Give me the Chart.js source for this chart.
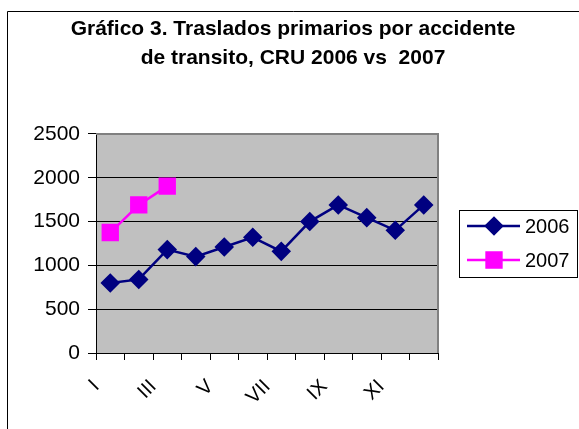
<!DOCTYPE html>
<html>
<head>
<meta charset="utf-8">
<script src="https://cdn.jsdelivr.net/npm/chart.js@4"></script>
<style>
  html, body { margin: 0; padding: 0; background: #fff; }
  #wrap { width: 579px; height: 429px; position: relative; }
</style>
</head>
<body>
<div id="wrap"><canvas id="grafico"></canvas></div>
<script>
// datos
var meses = ['I', 'II', 'III', 'IV', 'V', 'VI', 'VII', 'VIII', 'IX', 'X', 'XI', 'XII'];
var valores2006 = [800, 840, 1180, 1100, 1210, 1320, 1160, 1500, 1690, 1545, 1400, 1690];
var valores2007 = [1375, 1690, 1905];
var ticksY = [0, 500, 1000, 1500, 2000, 2500];
var titulo = ['Gráfico 3. Traslados primarios por accidente', 'de transito, CRU 2006 vs  2007'];

var fuente = "'Liberation Sans', Arial, sans-serif";

// marco, fondo gris del area y leyenda a mano (estilo Excel)
var excelPlugin = {
    id: 'excelPlugin',
    beforeDraw: function(chart){
        var ctx = chart.ctx;
        var a = chart.chartArea;
        ctx.save();
        ctx.fillStyle = '#fff';
        ctx.fillRect(0, 0, chart.width, chart.height);
        ctx.strokeStyle = '#000';
        ctx.lineWidth = 1;
        ctx.beginPath();
        ctx.moveTo(7.5, chart.height);
        ctx.lineTo(7.5, 11.5);
        ctx.lineTo(chart.width, 11.5);
        ctx.stroke();
        ctx.fillStyle = '#c0c0c0';
        ctx.fillRect(a.left, a.top, a.right - a.left, a.bottom - a.top);
        ctx.restore();
    },
    beforeDatasetsDraw: function(chart){
        var ctx = chart.ctx;
        var a = chart.chartArea;
        ctx.save();
        ctx.strokeStyle = '#808080';
        ctx.lineWidth = 2;
        ctx.beginPath();
        ctx.moveTo(a.left, a.top);
        ctx.lineTo(a.right, a.top);
        ctx.lineTo(a.right, a.bottom);
        ctx.stroke();
        ctx.restore();
    },
    afterDraw: function(chart){
        var ctx = chart.ctx;
        var bx = 459.5, by = 210.5, bw = 118, bh = 67;
        ctx.save();
        ctx.strokeStyle = '#000';
        ctx.lineWidth = 1;
        ctx.strokeRect(bx, by, bw, bh);
        chart.data.datasets.forEach(function(ds, i){
            var y = 226 + i * 34;
            ctx.strokeStyle = ds.borderColor;
            ctx.lineWidth = ds.borderWidth;
            ctx.beginPath();
            ctx.moveTo(467, y);
            ctx.lineTo(520, y);
            ctx.stroke();
            ctx.fillStyle = ds.pointBackgroundColor;
            ctx.strokeStyle = ds.pointBorderColor;
            Chart.helpers.drawPoint(ctx, {
                pointStyle: ds.pointStyle,
                radius: ds.pointRadius,
                rotation: 0,
                borderWidth: 1
            }, 494, y);
            ctx.fillStyle = '#000';
            ctx.font = '20px ' + fuente;
            ctx.textBaseline = 'middle';
            ctx.textAlign = 'left';
            ctx.fillText(ds.label, 525, y + 1);
        });
        ctx.restore();
    }
};

var ctx = document.getElementById('grafico').getContext('2d');
var chart = new Chart(ctx, {
    type: 'line',
    data: {
        labels: meses,
        datasets: [
            {
                label: '2006',
                data: valores2006,
                borderColor: '#000080',
                backgroundColor: '#000080',
                pointBackgroundColor: '#000080',
                pointBorderColor: '#000080',
                borderWidth: 2.5,
                pointStyle: 'rectRot',
                pointRadius: 8,
                tension: 0
            },
            {
                label: '2007',
                data: valores2007,
                borderColor: '#ff00ff',
                backgroundColor: '#ff00ff',
                pointBackgroundColor: '#ff00ff',
                pointBorderColor: '#ff00ff',
                borderWidth: 2.5,
                pointStyle: 'rect',
                pointRadius: 10.5,
                tension: 0
            }
        ]
    },
    options: {
        responsive: true,
        maintainAspectRatio: false,
        animation: false,
        layout: { padding: { left: 7, right: 0, top: 0, bottom: 0 } },
        plugins: {
            legend: { display: false },
            tooltip: { enabled: false },
            title: {
                display: true,
                text: titulo,
                color: '#000',
                font: { family: fuente, size: 21, weight: 'bold', lineHeight: 1.38 },
                padding: { top: 15, bottom: 61 }
            }
        },
        scales: {
            x: {
                offset: true,
                grid: { display: true, drawOnChartArea: false, offset: true, color: '#000', tickLength: 7 },
                border: { display: true, color: '#000', width: 1 },
                ticks: {
                    autoSkip: false,
                    maxRotation: 45,
                    minRotation: 45,
                    color: '#000',
                    font: { family: fuente, size: 20 },
                    padding: 15,
                    labelOffset: -14,
                    callback: function(v, i){ return i % 2 === 0 ? meses[i] : ''; }
                },
                afterFit: function(s){ s.height = 76; }
            },
            y: {
                min: 0,
                max: 2500,
                afterBuildTicks: function(s){ s.ticks = ticksY.map(function(v){ return { value: v }; }); },
                grid: { color: '#000', tickLength: 8 },
                border: { display: true, color: '#000', width: 1 },
                ticks: {
                    color: '#000',
                    font: { family: fuente, size: 21 },
                    padding: 8,
                    callback: function(v){ return String(v); }
                },
                afterFit: function(s){ s.width = 89; }
            },
            derecha: {
                position: 'right',
                display: true,
                grid: { display: false },
                border: { display: false },
                ticks: { display: false },
                afterFit: function(s){ s.width = 141; }
            }
        }
    },
    plugins: [excelPlugin]
});
</script>
</body>
</html>
